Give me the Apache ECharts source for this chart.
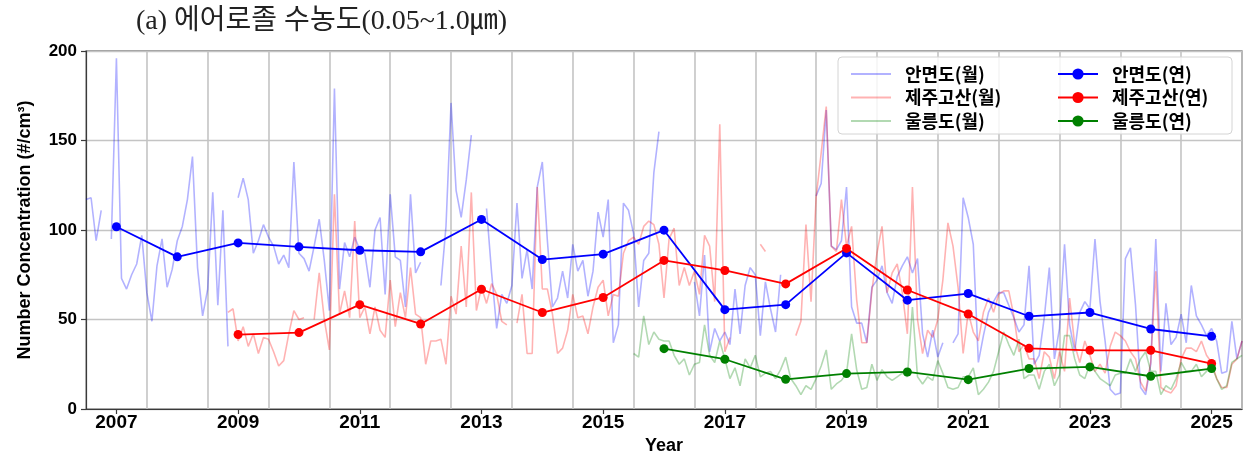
<!DOCTYPE html>
<html>
<head>
<meta charset="utf-8">
<script src="https://cdn.jsdelivr.net/npm/echarts@6/dist/echarts.min.js"></script>
<style>
  html, body { margin: 0; padding: 0; background: #fff; }
  #chart { width: 1249px; height: 453px; }
</style>
</head>
<body>
<div id="chart"></div>
<script>
// Monthly number concentration (#/cm3), one row per year, Jan..Dec
const anmyeonMonthlyStart = 2006;
const anmyeonMonthly = [
  null, null, null, null, null, null, 117, 118, 94, 111, null, 95,   // 2006
  196, 73, 67, 75, 81, 97, 65, 49, 80, 95, 68, 78,                    // 2007
  94, 102, 117, 141, 79, 52, 67, 121, 58, 111, 35, null,              // 2008
  118, 129, 117, 87, 94, 103, 96, 91, 81, 86, 79, 138,                // 2009
  87, 84, 77, 91, 106, 83, 55, 179, 67, 93, 85, 96,                   // 2010
  89, 87, 68, 100, 107, 64, 120, 85, 83, 57, 120, 76,                 // 2011
  82, null, null, null, 69, 102, 171, 122, 107, 128, 153, null,       // 2012
  null, 112, 76, 45, 64, 59, 69, 115, 73, 89, 67, 124,                // 2013
  138, 94, 57, 62, 77, 62, 92, 77, 83, 63, 77, 110,                   // 2014
  96, 117, 37, 47, 115, 111, 98, 57, 83, 87, 132, 155,                // 2015
  null, null, null, null, null, null, 71, 52, 86, 32, 45, 38,         // 2016
  43, 36, 67, 42, 69, 79, 75, 41, 71, 56, 43, 75,                     // 2017
  null, null, null, null, null, null, 119, 126, 167, 91, 89, 94,      // 2018
  124, 57, 48, 48, 37, 68, 72, 80, 65, 59, 74, 80,                    // 2019
  85, 76, 84, 42, 29, 44, 29, 37, null, 37, 42, 118,                  // 2020
  107, 92, 26, 41, 54, 60, 65, 65, 58, 51, 43, 47,                    // 2021
  80, 25, 30, 51, 79, 28, 45, 92, 47, 32, 54, 60,                     // 2022
  56, 95, 60, 38, 11, 8, 9, 84, 90, 58, 12, 8,                        // 2023
  25, 95, 21, 59, 36, 40, 53, 37, 69, 52, 47, 41,                     // 2024
  45, 38, 20, 21, 49, 28, 38                                          // 2025
];

const gosanMonthlyStart = 2008;
const gosanMonthly = [
  null, null, null, null, null, null, null, null, null, null, 54, 56, // 2008
  38, 46, 35, 42, 31, 40, 39, 32, 24, 27, 42, 55,                     // 2009
  50, 51, null, 50, 76, 50, 33, 120, 53, 66, 51, 105,                 // 2010
  51, 57, 42, 57, 44, 40, 72, 46, 65, 51, 79, 53,                     // 2011
  51, 25, 38, 38, 39, 25, 63, 53, 91, 57, 121, 55,                    // 2012
  68, 59, 70, 64, 49, 47, null, 48, 64, 31, 31, 124,                  // 2013
  67, 67, 53, 31, 34, 44, 64, 51, 52, 42, 57, 68,                     // 2014
  72, 52, 64, 63, 87, 94, 96, 92, 102, 105, 103, 92,                  // 2015
  62, 95, 101, 69, 79, 69, 77, 64, 97, 91, 60, 159,                   // 2016
  32, 40, null, null, null, null, null, 92, 88, null, null, null,     // 2017
  null, null, 41, 49, 103, 60, 118, 143, 169, 91, 88, 117,            // 2018
  91, 102, 61, 37, 37, 66, 87, 102, 65, 76, 81, 65,                   // 2019
  42, 124, 50, 31, 44, 40, 50, 72, 104, 91, 68, 31,                   // 2020
  54, 43, 38, 54, 62, 54, 64, 66, 66, 52, 32, 36,                     // 2021
  28, 28, 17, 32, 29, 17, 32, 21, 62, 36, 26, 38,                     // 2022
  30, 21, 25, 20, 35, 43, 41, 38, 32, 28, 15, 10,                     // 2023
  26, 77, 12, 10, 9, 13, 28, 34, 34, 32, 38, 30,                      // 2024
  26, 17, 12, 12, 25, 28, 38                                          // 2025
];

const ulleungMonthlyStart = 2015;
const ulleungMonthly = [
  null, null, null, null, null, null, 31, 29, 52, 36, 43, 39,         // 2015
  38, 38, 30, 25, 28, 19, 25, 26, 47, 30, 26, 38,                     // 2016
  28, 17, 23, 13, 28, 23, 30, 18, 20, 21, 17, 22,                     // 2017
  29, 17, 13, 8, 13, 11, 17, 24, 33, 11, 14, 16,                      // 2018
  20, 42, 22, 11, 12, 25, 16, 22, 18, 16, 18, 20,                     // 2019
  18, 57, 18, 14, 18, 16, 27, 20, 12, 11, 12, 18,                     // 2020
  18, 23, 8, 11, 15, 21, 32, 43, 36, 30, 39, 17,                      // 2021
  19, 19, 11, 21, 25, 13, 19, 41, 41, 28, 19, 17,                     // 2022
  25, 21, 17, 15, 13, 19, 20, 20, 28, 21, 28, 32,                     // 2023
  21, 21, 8, 13, 11, 17, 26, 21, 21, 25, 18, 21,                      // 2024
  24, 17, 11, 13, 26, 28, 30                                          // 2025
];

// Annual means
const anmyeonYears = [2007, 2008, 2009, 2010, 2011, 2012, 2013, 2014, 2015, 2016,
                      2017, 2018, 2019, 2020, 2021, 2022, 2023, 2024, 2025];
const anmyeonAnnual = [101.8, 85.0, 92.8, 90.6, 88.7, 87.8, 105.9, 83.5, 86.5, 99.9,
                       55.5, 58.3, 87.2, 60.8, 64.5, 51.8, 53.9, 44.7, 40.6];
const gosanYears = [2009, 2010, 2011, 2012, 2013, 2014, 2015, 2016, 2017,
                    2018, 2019, 2020, 2021, 2022, 2023, 2024, 2025];
const gosanAnnual = [41.6, 42.7, 58.3, 47.5, 66.9, 53.9, 62.3, 83.0, 77.4,
                     69.9, 89.7, 66.5, 53.1, 33.9, 32.8, 32.8, 25.4];
const ulleungYears = [2016, 2017, 2018, 2019, 2020, 2021, 2022, 2023, 2024, 2025];
const ulleungAnnual = [33.7, 27.8, 16.6, 19.8, 20.7, 16.4, 22.6, 23.5, 18.3, 22.6];

// Axis labels
const yearTicks = [2007, 2009, 2011, 2013, 2015, 2017, 2019, 2021, 2023, 2025];
const titleText = '(a) 에어로졸 수농도(0.05~1.0㎛)';
const yAxisTitle = 'Number Concentration (#/cm³)';
const xAxisTitle = 'Year';
const monthlyNames = ['안면도(월)', '제주고산(월)', '울릉도(월)'];
const annualNames = ['안면도(연)', '제주고산(연)', '울릉도(연)'];

// Monthly values become [decimal year, value] pairs (month m at year + m/12)
function monthlyPairs(startYear, values) {
  return values.map((v, i) => [startYear + i / 12, v]);
}
function annualPairs(years, values) {
  return years.map((y, i) => [y, values[i]]);
}

const KR = '"Noto Sans CJK KR", sans-serif';
const LAT = '"Liberation Sans", Arial, sans-serif';
const GRID_COLOR = '#c4c4c4';
const FRAME_COLOR = '#3a3a3a';

function monthlySeries(name, color, startYear, values) {
  return {
    name, type: 'line', xAxisIndex: 0, yAxisIndex: 0,
    data: monthlyPairs(startYear, values),
    symbol: 'none', connectNulls: false, silent: true,
    lineStyle: { color, width: 1.6 },
    itemStyle: { color },
    z: 2
  };
}
function annualSeries(name, color, years, values) {
  return {
    name, type: 'line', xAxisIndex: 0, yAxisIndex: 0,
    data: annualPairs(years, values),
    symbol: 'circle', symbolSize: 9, showSymbol: true, silent: true,
    lineStyle: { color, width: 1.8 },
    itemStyle: { color },
    z: 3
  };
}

const legendText = { fontFamily: KR, fontSize: 18, fontWeight: 'bold', color: '#000', padding: [0, 0, 0, 9] };
const legendCommon = {
  orient: 'vertical', top: 60, itemWidth: 40, itemHeight: 14, itemGap: 5.5,
  selectedMode: false, textStyle: legendText
};

const chart = echarts.init(document.getElementById('chart'), null, { renderer: 'canvas' });
chart.setOption({
  animation: false,
  backgroundColor: '#fff',
  title: {
    text: titleText, left: 131, top: 3,
    textStyle: { fontFamily: '"Liberation Serif", "Noto Sans CJK KR", serif', fontSize: 28, fontWeight: 'normal', color: '#222' }
  },
  grid: {
    left: 86, right: 7, top: 51, bottom: 44,
    outerBoundsMode: 'none', containLabel: false,
    show: true, borderColor: FRAME_COLOR, borderWidth: 1.2, backgroundColor: 'transparent'
  },
  xAxis: [
    {
      // grid lines at mid-year
      type: 'value', min: 2006.5, max: 2025.5, interval: 1,
      axisLine: { show: true, lineStyle: { color: FRAME_COLOR, width: 1.2 } },
      axisTick: { show: false }, axisLabel: { show: false },
      splitLine: { show: true, lineStyle: { color: GRID_COLOR, width: 1.6 } }
    },
    {
      // year labels
      type: 'value', min: 2006.5, max: 2025.5, position: 'bottom',
      axisLine: { show: false },
      axisTick: { show: true, customValues: yearTicks, length: 5, lineStyle: { color: FRAME_COLOR, width: 1.2 } },
      axisLabel: { show: true, customValues: yearTicks, formatter: v => String(v), margin: 4,
                   fontFamily: LAT, fontSize: 19, fontWeight: 'bold', color: '#000' },
      splitLine: { show: false },
      name: xAxisTitle, nameLocation: 'middle', nameGap: 21,
      nameTextStyle: { fontFamily: LAT, fontSize: 18, fontWeight: 'bold', color: '#000' }
    }
  ],
  yAxis: {
    type: 'value', min: 0, max: 200, interval: 50,
    axisLine: { show: true, lineStyle: { color: FRAME_COLOR, width: 1.2 } },
    axisTick: { show: true, length: 5, lineStyle: { color: FRAME_COLOR, width: 1.2 } },
    axisLabel: { fontFamily: LAT, fontSize: 17, fontWeight: 'bold', color: '#000', margin: 9 },
    splitLine: { show: true, lineStyle: { color: GRID_COLOR, width: 1.4 } },
    name: yAxisTitle, nameLocation: 'middle', nameGap: 52, nameRotate: 90,
    nameTextStyle: { fontFamily: LAT, fontSize: 18, fontWeight: 'bold', color: '#000' }
  },
  legend: [
    Object.assign({ left: 845, data: monthlyNames, itemStyle: { opacity: 0 } }, legendCommon),
    Object.assign({ left: 1052, data: annualNames }, legendCommon)
  ],
  graphic: [{
    type: 'rect', z: 3, silent: true,
    shape: { x: 838, y: 57, width: 394, height: 77, r: 4 },
    style: { fill: 'rgba(255,255,255,0.82)', stroke: '#d4d4d4', lineWidth: 1 }
  }],
  series: [
    monthlySeries(monthlyNames[0], 'rgba(0,0,255,0.3)', anmyeonMonthlyStart, anmyeonMonthly),
    monthlySeries(monthlyNames[1], 'rgba(255,0,0,0.3)', gosanMonthlyStart, gosanMonthly),
    monthlySeries(monthlyNames[2], 'rgba(0,128,0,0.3)', ulleungMonthlyStart, ulleungMonthly),
    annualSeries(annualNames[0], '#0000ff', anmyeonYears, anmyeonAnnual),
    annualSeries(annualNames[1], '#ff0000', gosanYears, gosanAnnual),
    annualSeries(annualNames[2], '#008000', ulleungYears, ulleungAnnual)
  ]
});
</script>
</body>
</html>
